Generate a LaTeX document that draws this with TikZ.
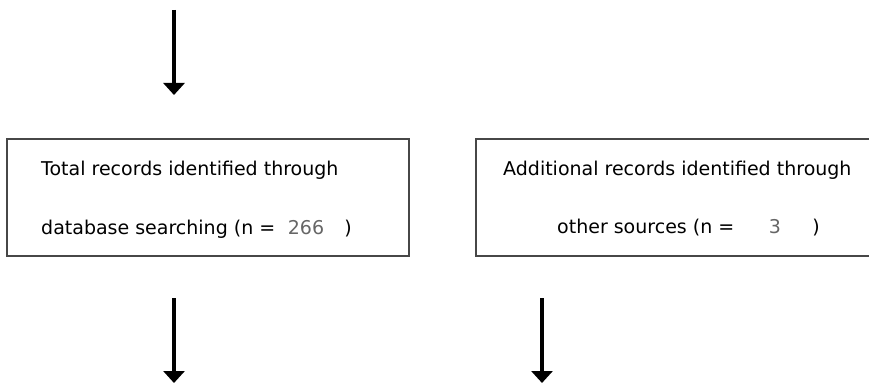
\documentclass[tikz,border=0pt]{standalone}
\usepackage{fontspec}
\setmainfont{DejaVu Sans}
\usetikzlibrary{arrows.meta}
\begin{document}
\begin{tikzpicture}[x=1pt,y=-1pt,
  txt/.style={anchor=base west,inner sep=0pt,font=\fontsize{19}{22}\selectfont},
  num/.style={anchor=base,inner sep=0pt,font=\fontsize{19}{22}\selectfont,text=black!60},
  par/.style={anchor=base,inner sep=0pt,font=\fontsize{19}{22}\selectfont},
  boxframe/.style={draw=black!72,line width=1.2pt,inner sep=0pt},
  flow/.style={line width=3.5pt,-{Triangle[width=21pt,length=12pt]}}]
\useasboundingbox (0,0) rectangle (869,385);
\clip (0,0) rectangle (869,385);
\fill[white] (0,0) rectangle (869,385);
% boxes
\node[boxframe,minimum width=402pt,minimum height=117pt] (box1) at (208,197.5) {};
\node[boxframe,minimum width=420pt,minimum height=117pt] (box2) at (686,197.5) {};
% texts, left box
\node[txt] (l1) at (41,175) {Total records identified through};
\node[txt] (l2) at (41,234) {database searching (n =};
\node[num] (n1) at (306,234) {266};
\node[par] (p1) at (348,234) {)};
% texts, right box
\node[txt] (r1) at (503,175) {Additional records identified through};
\node[txt] (r2) at (557,233) {other sources (n =};
\node[num] (n2) at (775,233) {3};
\node[par] (p2) at (816,233) {)};
% arrows
\coordinate (a0) at (174,10);
\coordinate (a1) at (174,95);
\coordinate (b0) at (174,298);
\coordinate (b1) at (174,383);
\coordinate (c0) at (542,298);
\coordinate (c1) at (542,383);
\draw[flow] (a0) -- (a1);
\draw[flow] (b0) -- (b1);
\draw[flow] (c0) -- (c1);
\end{tikzpicture}
\end{document}
